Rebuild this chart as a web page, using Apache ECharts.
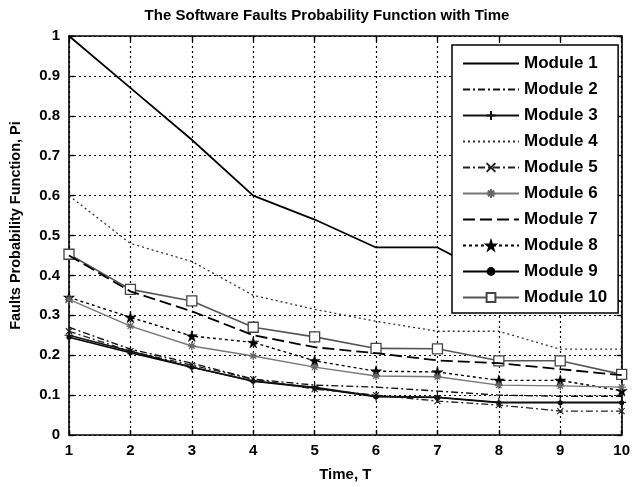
<!DOCTYPE html>
<html>
<head>
<meta charset="utf-8">
<script src="https://cdn.jsdelivr.net/npm/echarts@6/dist/echarts.min.js"></script>
<style>
html,body{margin:0;padding:0;background:#fff;}
#c{width:633px;height:487px;}
</style>
</head>
<body>
<div id="c"></div>
<script>
const times = [1, 2, 3, 4, 5, 6, 7, 8, 9, 10];
const seriesNames = ['Module 1','Module 2','Module 3','Module 4','Module 5','Module 6','Module 7','Module 8','Module 9','Module 10'];
const module1  = [1.00, 0.87, 0.74, 0.60, 0.54, 0.47, 0.47, 0.39, 0.36, 0.335];
const module2  = [0.27, 0.215, 0.18, 0.14, 0.125, 0.12, 0.11, 0.10, 0.097, 0.097];
const module3  = [0.25, 0.21, 0.17, 0.135, 0.12, 0.097, 0.095, 0.082, 0.082, 0.082];
const module4  = [0.60, 0.48, 0.435, 0.35, 0.315, 0.285, 0.26, 0.26, 0.215, 0.215];
const module5  = [0.26, 0.21, 0.175, 0.14, 0.115, 0.10, 0.085, 0.075, 0.06, 0.06];
const module6  = [0.34, 0.273, 0.223, 0.198, 0.17, 0.148, 0.146, 0.125, 0.123, 0.12];
const module7  = [0.45, 0.36, 0.31, 0.25, 0.22, 0.205, 0.187, 0.18, 0.165, 0.15];
const module8  = [0.345, 0.295, 0.248, 0.232, 0.186, 0.16, 0.158, 0.137, 0.137, 0.111];
const module9  = [0.245, 0.206, 0.17, 0.135, 0.118, 0.096, 0.094, 0.081, 0.081, 0.081];
const module10 = [0.453, 0.365, 0.336, 0.27, 0.246, 0.217, 0.216, 0.186, 0.186, 0.152];
const yTicks = [0, 0.1, 0.2, 0.3, 0.4, 0.5, 0.6, 0.7, 0.8, 0.9, 1];

const FONT = 'Liberation Sans';
const PLUS = 'path://M0,-5L0,5M-5,0L5,0';
const CROSS = 'path://M-5,-5L5,5M-5,5L5,-5';
const ASTER = 'path://M0,-5L0,5M-5,0L5,0M-3.5,-3.5L3.5,3.5M-3.5,3.5L3.5,-3.5';
const STAR = 'path://M0,-10L2.245,-3.09L9.511,-3.09L3.633,1.18L5.878,8.09L0,3.82L-5.878,8.09L-3.633,1.18L-9.511,-3.09L-2.245,-3.09Z';

function pts(arr){ return times.map((t,i)=>[t, arr[i]]); }

const styles = [
  {data: module1, color:'#000', type:'solid', width:1.8},
  {data: module2, color:'#111', type:[7,3,2,3], width:1.4},
  {data: module3, color:'#111', type:'solid', width:1.4, symbol:PLUS, size:9, fill:'#111', border:'#111', bw:1.2},
  {data: module4, color:'#333', type:[2,3], width:1.3},
  {data: module5, color:'#222', type:[7,3,2,3], width:1.3, symbol:CROSS, size:6, fill:'#222', border:'#222', bw:1.1},
  {data: module6, color:'#777', type:'solid', width:1.4, symbol:ASTER, size:8, fill:'#666', border:'#666', bw:1.3},
  {data: module7, color:'#000', type:[12,5], width:1.8},
  {data: module8, color:'#000', type:[3,3], width:1.4, symbol:STAR, size:11, fill:'#000', border:'#000', bw:0.5},
  {data: module9, color:'#000', type:'solid', width:1.6, symbol:'circle', size:5, fill:'#000', border:'#000', bw:0},
  {data: module10, color:'#555', type:'solid', width:1.6, symbol:'rect', size:10, fill:'#fff', border:'#444', bw:1.3}
];

const series = styles.map((s,i)=>{
  const has = !!s.symbol;
  return {
    name: seriesNames[i],
    type: 'line',
    xAxisIndex: 0, yAxisIndex: 0,
    data: pts(s.data),
    symbol: has ? s.symbol : 'circle',
    symbolSize: has ? s.size : 1,
    showSymbol: has,
    lineStyle: {color: s.color, type: s.type, width: s.width},
    itemStyle: has ? {color: s.fill, borderColor: s.border, borderWidth: s.bw}
                   : {color: 'rgba(0,0,0,0)', borderColor: 'rgba(0,0,0,0)', borderWidth: 0},
    emphasis: {disabled: true},
    animation: false,
    z: 10 - i
  };
});

const chart = echarts.init(document.getElementById('c'), null, {renderer:'canvas'});
const gridStyle = {show:true, lineStyle:{color:'#000', type:[2,3], width:1.2}};
chart.setOption({
  backgroundColor: '#fff',
  animation: false,
  title: {
    text: 'The Software Faults Probability Function with Time',
    left: 322, top: 3, textAlign: 'center',
    textStyle: {fontFamily: FONT, fontWeight:'bold', fontSize: 15, color:'#000'}
  },
  grid: {left: 69, right: 10, top: 36, bottom: 51, containLabel: false},
  xAxis: [{
    type:'value', min:1, max:10, interval:1, position:'bottom',
    name:'Time, T', nameLocation:'middle', nameGap: 32,
    nameTextStyle:{fontFamily:FONT, fontWeight:'bold', fontSize:15, color:'#000'},
    axisLine:{show:true, onZero:false, lineStyle:{color:'#000', width:1.6}},
    axisTick:{show:true, inside:true, length:5, lineStyle:{color:'#000', width:1.4}},
    axisLabel:{fontFamily:FONT, fontWeight:'bold', fontSize:15, color:'#000', margin:8},
    splitLine: gridStyle
  },{
    type:'value', min:1, max:10, interval:1, position:'top',
    axisLine:{show:true, onZero:false, lineStyle:{color:'#000', width:1.6}},
    axisTick:{show:true, inside:true, length:5, lineStyle:{color:'#000', width:1.4}},
    axisLabel:{show:false}, splitLine:{show:false}
  }],
  yAxis: [{
    type:'value', min:0, max:1, interval:0.1, position:'left',
    name:'Faults Probability Function, Pi', nameLocation:'middle', nameGap: 46, nameRotate: 90,
    nameTextStyle:{fontFamily:FONT, fontWeight:'bold', fontSize:14.5, color:'#000', padding:[0,0,0,20]},
    axisLine:{show:true, onZero:false, lineStyle:{color:'#000', width:1.6}},
    axisTick:{show:true, inside:true, length:5, lineStyle:{color:'#000', width:1.4}},
    axisLabel:{fontFamily:FONT, fontWeight:'bold', fontSize:15, color:'#000', margin:9,
      formatter: v => { const t = yTicks.find(x=>Math.abs(x-v)<1e-9); return String(t !== undefined ? t : v); }},
    splitLine: gridStyle
  },{
    type:'value', min:0, max:1, interval:0.1, position:'right',
    axisLine:{show:true, onZero:false, lineStyle:{color:'#000', width:1.6}},
    axisTick:{show:true, inside:true, length:5, lineStyle:{color:'#000', width:1.4}},
    axisLabel:{show:false}, splitLine:{show:false}
  }],
  legend: {
    orient:'vertical', left: 452, top: 45,
    data: seriesNames,
    itemWidth: 56, itemHeight: 11, itemGap: 9,
    padding: [10, 11, 7, 10],
    backgroundColor:'#fff', borderColor:'#000', borderWidth:1.5,
    textStyle:{fontFamily:FONT, fontWeight:'bold', fontSize:17, color:'#000'},
    selectedMode: false,
    z: 20
  },
  series: series
});
</script>
</body>
</html>
